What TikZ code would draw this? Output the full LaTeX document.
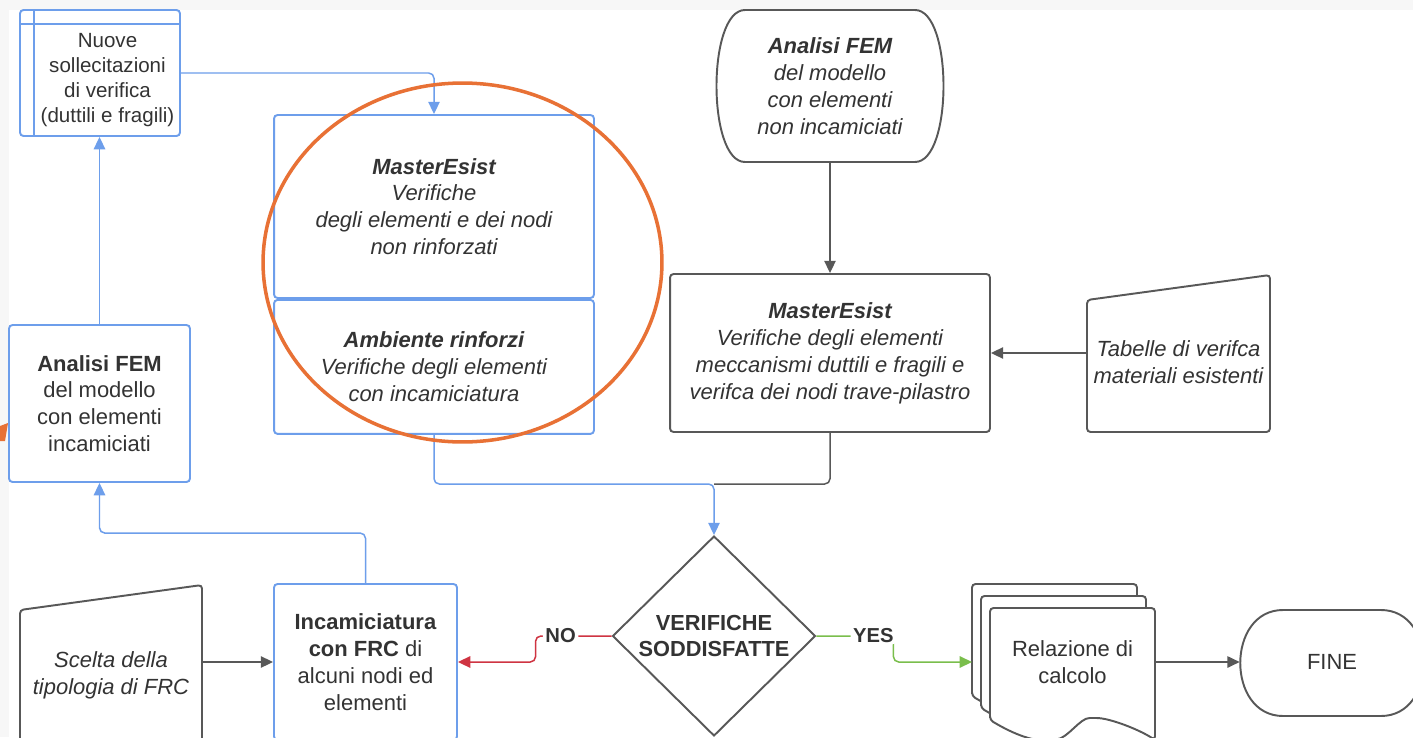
\documentclass[tikz,border=0pt]{standalone}
\usepackage{fontspec}
\setmainfont{Liberation Sans}
\usetikzlibrary{shapes,arrows.meta,positioning,calc}
\definecolor{lcblue}{RGB}{109,158,235}
\definecolor{lcgray}{RGB}{88,88,88}
\definecolor{lctext}{RGB}{51,51,51}
\definecolor{lcred}{RGB}{207,52,66}
\definecolor{lcgreen}{RGB}{122,190,76}
\definecolor{lcorange}{RGB}{232,113,53}

\begin{document}
\begin{tikzpicture}[x=0.02cm, y=-0.02cm,
    every node/.style={text=lctext, font=\fontsize{12.5}{15.3}\selectfont, align=center, inner sep=0pt},
    bluebox/.style={rectangle, draw=lcblue, line width=1.1pt, rounded corners=2pt, fill=white},
    graybox/.style={rectangle, draw=lcgray, line width=1.1pt, rounded corners=2pt, fill=white},
    shapeline/.style={draw=lcgray, line width=1.1pt, fill=white, rounded corners=2pt},
    roundline/.style={draw=lcgray, line width=1.1pt, fill=white},
    italic/.style={font=\itshape\fontsize{12.5}{15.3}\selectfont},
    tip/.style={>={Triangle[length=7pt,width=6.5pt]}},
    blink/.style={draw=lcblue, line width=0.85pt, rounded corners=3pt, tip},
    glink/.style={draw=lcgray, line width=0.85pt, rounded corners=3pt, tip},
    rlink/.style={draw=lcred, line width=0.85pt, rounded corners=3pt, tip},
    vlink/.style={draw=lcgreen, line width=0.85pt, rounded corners=3pt, tip},
    answer/.style={fill=white, inner xsep=1.5pt, inner ysep=1pt, font=\bfseries\fontsize{11.5}{13}\selectfont}
]
    \useasboundingbox (0,0) rectangle (1413,737);
    \clip (0,0) rectangle (1413,737);
    \fill[gray!6] (0,0) rectangle (1413,737);
    \fill[white] (9,10) rectangle (1413,737);
    \fill[lcorange] (0,426) -- (8,423) -- (5,441) -- (0,441) -- cycle;

    \node[bluebox, minimum width=3.2cm, minimum height=2.52cm] (nuove) at (100,73) {};
    \draw[lcblue, line width=1.1pt] ([xshift=0.3cm]nuove.north west) -- ([xshift=0.3cm]nuove.south west);
    \draw[lcblue, line width=1.1pt] ([yshift=-0.3cm]nuove.north west) -- ([yshift=-0.3cm]nuove.north east);
    \node[font=\fontsize{11.7}{14.3}\selectfont] (nuovetxt) at (107.5,80) {Nuove\\sollecitazioni\\di verifica\\(duttili e fragili)};

    \node[bluebox, minimum width=3.62cm, minimum height=3.14cm] (fem1) at (99.5,403.5) {\textbf{Analisi FEM}\\del modello\\con elementi\\incamiciati};

    \node[bluebox, italic, minimum width=6.4cm, minimum height=3.66cm] (me1) at (434,206.5) {\textbf{MasterEsist}\\Verifiche\\degli elementi e dei nodi\\non rinforzati};
    \node[bluebox, italic, minimum width=6.4cm, minimum height=2.68cm, below=0pt of me1] (ar) {\textbf{Ambiente rinforzi}\\Verifiche degli elementi\\con incamiciatura};

    \draw[roundline] (745,10) -- (915,10) .. controls (953,10) and (953,162) .. (915,162) -- (745,162) .. controls (707,162) and (707,10) .. (745,10) -- cycle;
    \node[italic, minimum width=4.56cm, minimum height=3.04cm] (fem2) at (830,86) {\textbf{Analisi FEM}\\del modello\\con elementi\\non incamiciati};

    \node[graybox, italic, minimum width=6.4cm, minimum height=3.16cm] (me2) at (830,353) {\textbf{MasterEsist}\\Verifiche degli elementi\\meccanismi duttili e fragili e\\verifca dei nodi trave-pilastro};

    \draw[shapeline] (1087,432) -- (1087,300) -- (1270,275) -- (1270,432) -- cycle;
    \node[italic, minimum width=3.66cm, minimum height=2.64cm] (tab) at (1178.5,362) {Tabelle di verifca\\materiali esistenti};

    \draw[shapeline] (20,745) -- (20,610) -- (202,585) -- (202,745);
    \node[italic, minimum width=3.64cm, minimum height=2cm] (scelta) at (111,675) {Scelta della\\tipologia di FRC};

    \node[bluebox, minimum width=3.66cm, minimum height=3.12cm] (inc) at (365.5,662) {\textbf{Incamiciatura}\\\textbf{con FRC} di\\alcuni nodi ed\\elementi};

    \node[diamond, draw=lcgray, line width=1.1pt, fill=white, minimum width=4.06cm, minimum height=4cm, font=\bfseries\fontsize{12.4}{15.3}\selectfont] (dia) at (714,636) {VERIFICHE\\SODDISFATTE};

    \foreach \d in {18,9,0}
        \draw[shapeline, shift={(-\d,-\d*4/3)}] (990,720) -- (990,608) -- (1155,608) -- (1155,740) .. controls (1140,730) and (1110,718) .. (1093,718) .. controls (1080,718) and (1068,738) .. (1053,740) .. controls (1035,742) and (1015,735) .. (990,720) -- cycle;
    \node[minimum width=3.3cm, minimum height=2cm] (rel) at (1072.5,662) {Relazione di\\calcolo};
    \coordinate (relin) at (972,662);

    \draw[roundline] (1283,610) -- (1381,610) .. controls (1438,610) and (1438,716) .. (1381,716) -- (1283,716) .. controls (1226,716) and (1226,610) .. (1283,610) -- cycle;
    \node[minimum width=3.68cm, minimum height=2.12cm] (fine) at (1332,662) {FINE};

    \coordinate (join) at (714,484);
    \draw[blink,->] (fem1.north) -- (nuove.south -| fem1.north);
    \draw[blink,->] (nuove.east) -| (me1.north);
    \draw[blink,->] (inc.north) -- ++(0,-50) -| (fem1.south);
    \draw[glink] (me2.south) |- (join);
    \draw[blink,->] (ar.south) |- (join) -- (dia.north);
    \draw[glink,->] (fem2.south) -- (me2.north);
    \draw[glink,->] (tab.west |- me2.east) -- (me2.east);
    \draw[glink,->] (scelta.east |- inc.west) -- (inc.west);
    \draw[rlink,->] (dia.west) -- ++(-76,0) node[answer, pos=0.67] {NO} |- (inc.east);
    \draw[vlink,->] (dia.east) -- ++(77,0) node[answer, pos=0.74] {YES} |- (relin);
    \draw[glink,->] (rel.east) -- (fine.west);

    \draw[lcorange, line width=2pt] (462.5,262.5) ellipse [x radius=3.99cm, y radius=3.59cm];
\end{tikzpicture}
\end{document}
